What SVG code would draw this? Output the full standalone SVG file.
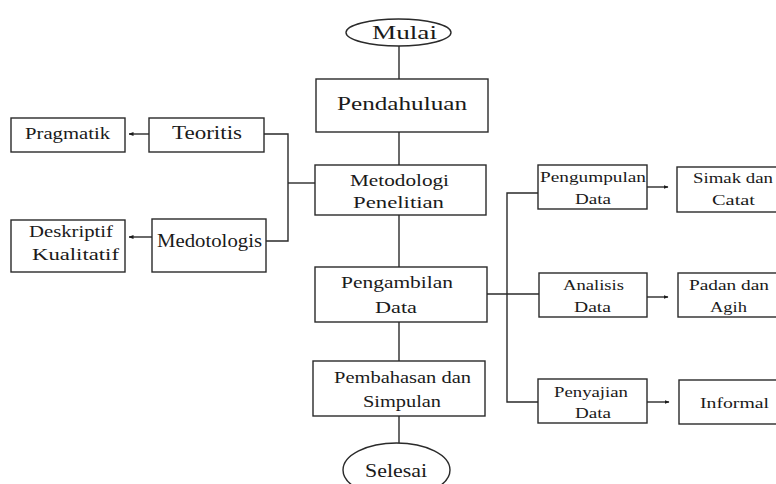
<svg xmlns="http://www.w3.org/2000/svg" width="776" height="484" viewBox="0 0 776 484">
<style>
.box{fill:#fff;stroke:#2a2a2a;stroke-width:1.4}
.ln{fill:none;stroke:#2a2a2a;stroke-width:1.4}
text{font-family:'Liberation Serif','DejaVu Serif',serif;fill:#1a1a1a;text-anchor:middle}
.l{font-size:19px}
.m{font-size:17px}
.s{font-size:15.5px}
</style>
<defs>
<marker id="ah" markerWidth="5" markerHeight="4" refX="4.5" refY="2" orient="auto" markerUnits="userSpaceOnUse">
<path d="M0,0 L5,2 L0,4 Z" fill="#1a1a1a"/>
</marker>
</defs>
<rect width="776" height="484" fill="#fff"/>
<g id="connectors">
<path class="ln" d="M399,46 V79"/>
<path class="ln" d="M399,132 V165"/>
<path class="ln" d="M399,215 V267"/>
<path class="ln" d="M399,322 V361"/>
<path class="ln" d="M399,416 V443"/>
<path class="ln" d="M264,134 H288 V241 H266"/>
<path class="ln" d="M288,183 H315"/>
<path class="ln" d="M149,134 H129" marker-end="url(#ah)"/>
<path class="ln" d="M152,237 H129" marker-end="url(#ah)"/>
<path class="ln" d="M538,193 H507 V402 H538"/>
<path class="ln" d="M487,294 H539"/>
<path class="ln" d="M647,187 H668" marker-end="url(#ah)"/>
<path class="ln" d="M647,297 H668" marker-end="url(#ah)"/>
<path class="ln" d="M647,402 H669" marker-end="url(#ah)"/>
</g>
<g id="mulai">
<ellipse class="box" cx="398.5" cy="32.5" rx="52.5" ry="13.5"/>
<text class="l" x="404.5" y="38.5" textLength="65" lengthAdjust="spacingAndGlyphs" font-family="Liberation Serif, serif">Mulai</text>
</g>
<g id="pendahuluan">
<rect class="box" x="316" y="79" width="172" height="53"/>
<text class="l" x="402" y="110" textLength="130" lengthAdjust="spacingAndGlyphs">Pendahuluan</text>
</g>
<g id="metodologi">
<rect class="box" x="315" y="165" width="171" height="50"/>
<text class="m" x="399.5" y="186" textLength="99" lengthAdjust="spacingAndGlyphs">Metodologi</text>
<text class="m" x="398.5" y="208" textLength="91" lengthAdjust="spacingAndGlyphs">Penelitian</text>
</g>
<g id="teoritis">
<rect class="box" x="149" y="118" width="115" height="34"/>
<text class="l" x="207" y="139" textLength="70" lengthAdjust="spacingAndGlyphs">Teoritis</text>
</g>
<g id="pragmatik">
<rect class="box" x="11" y="118" width="114" height="34"/>
<text class="m" x="67.5" y="139" textLength="85" lengthAdjust="spacingAndGlyphs">Pragmatik</text>
</g>
<g id="medotologis">
<rect class="box" x="152" y="219" width="114" height="53"/>
<text class="l" x="209.5" y="247" textLength="105" lengthAdjust="spacingAndGlyphs">Medotologis</text>
</g>
<g id="deskriptif">
<rect class="box" x="11" y="220" width="114" height="52"/>
<text class="m" x="71" y="237" textLength="84" lengthAdjust="spacingAndGlyphs">Deskriptif</text>
<text class="m" x="75.5" y="260" textLength="87" lengthAdjust="spacingAndGlyphs">Kualitatif</text>
</g>
<g id="pengambilan">
<rect class="box" x="315" y="267" width="172" height="55"/>
<text class="m" x="397" y="288" textLength="112" lengthAdjust="spacingAndGlyphs">Pengambilan</text>
<text class="m" x="396" y="313" textLength="42" lengthAdjust="spacingAndGlyphs">Data</text>
</g>
<g id="pembahasan">
<rect class="box" x="313" y="361" width="172" height="55"/>
<text class="m" x="402.5" y="383" textLength="137" lengthAdjust="spacingAndGlyphs">Pembahasan dan</text>
<text class="m" x="402" y="407" textLength="78" lengthAdjust="spacingAndGlyphs">Simpulan</text>
</g>
<g id="selesai">
<ellipse class="box" cx="396.5" cy="470" rx="53.5" ry="27"/>
<text class="l" x="396" y="477" textLength="62" lengthAdjust="spacingAndGlyphs">Selesai</text>
</g>
<g id="pengumpulan">
<rect class="box" x="538" y="165" width="109" height="44"/>
<text class="s" x="593" y="182" textLength="106" lengthAdjust="spacingAndGlyphs">Pengumpulan</text>
<text class="s" x="593" y="204" textLength="36" lengthAdjust="spacingAndGlyphs">Data</text>
</g>
<g id="simak">
<rect class="box" x="677" y="167" width="104" height="45"/>
<text class="s" x="733" y="183" textLength="80" lengthAdjust="spacingAndGlyphs">Simak dan</text>
<text class="s" x="733.5" y="205" textLength="43" lengthAdjust="spacingAndGlyphs">Catat</text>
</g>
<g id="analisis">
<rect class="box" x="539" y="273" width="108" height="44"/>
<text class="s" x="593.5" y="290" textLength="61" lengthAdjust="spacingAndGlyphs">Analisis</text>
<text class="s" x="592.5" y="312" textLength="37" lengthAdjust="spacingAndGlyphs">Data</text>
</g>
<g id="padan">
<rect class="box" x="678" y="273" width="103" height="44"/>
<text class="s" x="729" y="290" textLength="80" lengthAdjust="spacingAndGlyphs">Padan dan</text>
<text class="s" x="728.5" y="312" textLength="37" lengthAdjust="spacingAndGlyphs">Agih</text>
</g>
<g id="penyajian">
<rect class="box" x="538" y="379" width="109" height="44"/>
<text class="s" x="591" y="397" textLength="74" lengthAdjust="spacingAndGlyphs">Penyajian</text>
<text class="s" x="593" y="418" textLength="36" lengthAdjust="spacingAndGlyphs">Data</text>
</g>
<g id="informal">
<rect class="box" x="679" y="380" width="102" height="44"/>
<text class="s" x="734.5" y="408" textLength="69" lengthAdjust="spacingAndGlyphs">Informal</text>
</g>
</svg>
